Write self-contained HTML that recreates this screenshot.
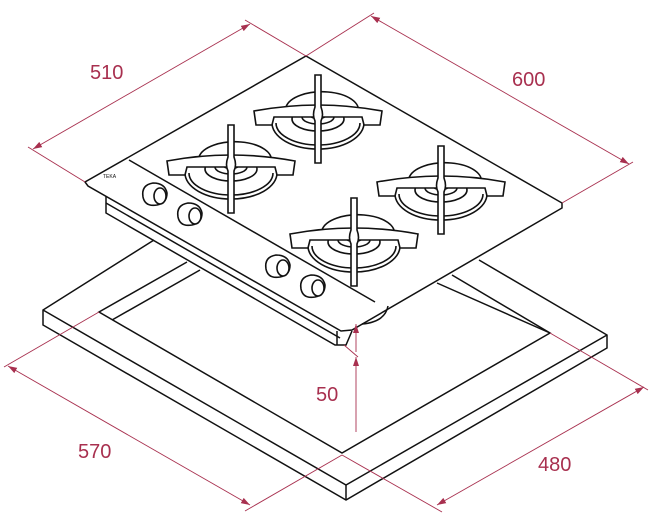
<!DOCTYPE html>
<html><head><style>
html,body{margin:0;padding:0;background:#fff;}
svg{display:block}
text{font-family:"Liberation Sans",sans-serif;font-size:20px;fill:#a8304f}
</style></head><body>
<svg width="654" height="531" viewBox="0 0 654 531" xmlns="http://www.w3.org/2000/svg">
<defs>
<marker id="ae" markerWidth="10" markerHeight="8" refX="9" refY="4" orient="auto" markerUnits="userSpaceOnUse">
<path d="M0,1 L9,4 L0,7 Z" fill="#a8304f"/></marker>
<marker id="as" markerWidth="10" markerHeight="8" refX="1" refY="4" orient="auto" markerUnits="userSpaceOnUse">
<path d="M10,1 L1,4 L10,7 Z" fill="#a8304f"/></marker>
<g id="burner" fill="#fff" stroke="#111" stroke-width="1.6">
<path d="M-46,8 A46 26 0 0 0 46,8" fill="none"/>
<path d="M-42,8 A42 22 0 0 0 42,8" fill="none"/>
<path d="M-32,-8 A36 18 0 0 1 40,-2" fill="none"/>
<ellipse cx="0" cy="4" rx="26" ry="12"/>
<ellipse cx="0" cy="2" rx="16" ry="7"/>
<ellipse cx="0" cy="0" rx="8" ry="3.5"/>
<path d="M-64,-4 Q0,-16 64,-4 L62,10 L46,10 L44,2 L-44,2 L-46,10 L-62,10 Z"/>
<path d="M-3,-40 L3,-40 L3,-8 Q6,0 3,6 L3,48 L-3,48 L-3,6 Q-6,0 -3,-8 Z"/>
</g>
<g id="knob" stroke="#111" stroke-width="1.6" fill="#fff">
<path d="M-12,4 Q-14,-8 -2,-10 Q10,-10 12,0 Q12,10 2,12 Q-10,14 -12,4 Z"/>
<ellipse cx="5" cy="3" rx="6" ry="8"/>
</g>
</defs>
<g fill="none" stroke="#111" stroke-width="1.5">
<!-- frame -->
<path d="M154,240 L43,310 L43,325 L346,500 L607,348 L607,335 L479,260"/>
<path d="M43,310 L346,485 L607,335"/>
<path d="M346,485 L346,500"/>
<path d="M187,262 L99,312 L342,453 L550,333 L452,275"/>
<path d="M200,270 L112,320"/>
<path d="M437,283 L550,333"/>
<!-- hob -->
<path d="M306,56 L562,203 L562,208 L352,330 L341,331 L88,186 L85,182 Z" fill="#fff"/>
<path d="M106,196 L106,213 L335,345 L346,345 L352,331"/>
<path d="M337,331 L337,345"/>
<path d="M362,324 Q385,322 388,306"/>
<path d="M129,160 L375,302"/>
<path d="M106,203 L340,338"/>
</g>
<text x="103" y="178" style="font-size:5px;fill:#111">TEKA</text>
<use href="#burner" x="318" y="115"/>
<use href="#burner" x="231" y="165"/>
<use href="#burner" x="441" y="186"/>
<use href="#burner" x="354" y="238"/>
<use href="#knob" x="155" y="193"/>
<use href="#knob" x="190" y="213"/>
<use href="#knob" x="278" y="265"/>
<use href="#knob" x="313" y="285"/>
<!-- dimensions -->
<g stroke="#a8304f" stroke-width="0.9" fill="none">
<path d="M85,182 L28,147"/>
<path d="M306,56 L245,20"/>
<path d="M306,56 L374,13"/>
<path d="M562,203 L633,162"/>
<line x1="33" y1="149" x2="250" y2="24" marker-start="url(#as)" marker-end="url(#ae)"/>
<line x1="371" y1="16" x2="629" y2="164" marker-start="url(#as)" marker-end="url(#ae)"/>
<path d="M99,312 L4,367"/>
<path d="M342,455 L245,511"/>
<path d="M342,455 L442,512"/>
<path d="M550,333 L648,390"/>
<line x1="8" y1="366" x2="250" y2="505" marker-start="url(#as)" marker-end="url(#ae)"/>
<line x1="437" y1="505" x2="644" y2="387" marker-start="url(#as)" marker-end="url(#ae)"/>
<line x1="356" y1="352" x2="356" y2="324" marker-end="url(#ae)"/>
<line x1="356" y1="432" x2="356" y2="357" marker-end="url(#ae)"/>
<path d="M344,345 L358,357"/>
</g>
<text x="90" y="79">510</text>
<text x="512" y="86">600</text>
<text x="316" y="401">50</text>
<text x="78" y="458">570</text>
<text x="538" y="471">480</text>
</svg>
</body></html>
